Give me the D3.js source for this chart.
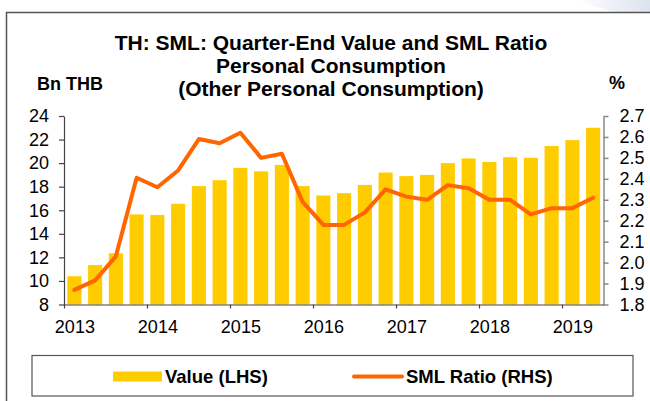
<!DOCTYPE html>
<html>
<head>
<meta charset="utf-8">
<script src="https://cdn.jsdelivr.net/npm/d3@7"></script>
<style>
  body { margin: 0; background: #fff; }
  svg { display: block; font-family: "Liberation Sans", Arial, sans-serif; }
</style>
</head>
<body>
<div id="chart"></div>
<script>
// quarterly data, 2013Q1 .. 2019Q2
const quarters = [
    "2013Q1", "2013Q2", "2013Q3", "2013Q4",
    "2014Q1", "2014Q2", "2014Q3", "2014Q4",
    "2015Q1", "2015Q2", "2015Q3", "2015Q4",
    "2016Q1", "2016Q2", "2016Q3", "2016Q4",
    "2017Q1", "2017Q2", "2017Q3", "2017Q4",
    "2018Q1", "2018Q2", "2018Q3", "2018Q4",
    "2019Q1", "2019Q2"
];
const valueLHS = [
    10.4, 11.35, 12.35, 15.65,
    15.6, 16.55, 18.05, 18.55,
    19.6, 19.3, 19.85, 18.05,
    17.25, 17.45, 18.15, 19.2,
    18.9, 19.0, 20.0, 20.4,
    20.1, 20.5, 20.45, 21.45,
    21.95, 23.0
];
const smlRatio = [
    1.87, 1.915, 2.03, 2.405,
    2.36, 2.44, 2.59, 2.57,
    2.62, 2.50, 2.52, 2.29,
    2.18, 2.18, 2.24, 2.35,
    2.315, 2.30, 2.37, 2.355,
    2.30, 2.30, 2.23, 2.26,
    2.26, 2.31
];
const yearLabels = ["2013", "2014", "2015", "2016", "2017", "2018", "2019"];
const leftTicks = [8, 10, 12, 14, 16, 18, 20, 22, 24];
const rightTicks = [1.8, 1.9, 2.0, 2.1, 2.2, 2.3, 2.4, 2.5, 2.6, 2.7];
const titleLines = [
    "TH: SML: Quarter-End Value and SML Ratio",
    "Personal Consumption",
    "(Other Personal Consumption)"
];

const width = 650, height = 401;
const plot = { left: 64, right: 603.5, top: 116, bottom: 304.5 };

const svg = d3.select("#chart")
    .append("svg")
    .attr("width", width)
    .attr("height", height);

// faint decoration at the top right corner
const grad = svg.append("defs").append("linearGradient")
    .attr("id", "corner").attr("x1", 0).attr("x2", 1).attr("y1", 0).attr("y2", 0);
grad.append("stop").attr("offset", 0).attr("stop-color", "#ffffff");
grad.append("stop").attr("offset", 1).attr("stop-color", "#dde3ee");
svg.append("path")
    .attr("d", "M575,0 L650,0 L650,12 L612,12 Q595,6 575,0 Z")
    .attr("fill", "url(#corner)");

// frame
svg.append("path")
    .attr("d", `M6.5,${height} L6.5,12.5 L${width},12.5`)
    .attr("fill", "none")
    .attr("stroke", "#555")
    .attr("stroke-width", 1.5);

// scales
const x = d3.scaleBand()
    .domain(quarters)
    .range([plot.left, plot.right])
    .paddingInner(0.32)
    .paddingOuter(0.16);

const xYears = d3.scaleLinear()
    .domain([0, quarters.length])
    .range([plot.left, plot.right]);

const yLeft = d3.scaleLinear().domain([8, 24]).range([plot.bottom, plot.top]);
const yRight = d3.scaleLinear().domain([1.8, 2.7]).range([plot.bottom, plot.top]);

// bars
svg.append("g")
    .selectAll("rect")
    .data(valueLHS)
    .join("rect")
    .attr("x", (d, i) => x(quarters[i]))
    .attr("y", d => yLeft(d))
    .attr("width", x.bandwidth())
    .attr("height", d => yLeft(8) - yLeft(d))
    .attr("fill", "#FFCC00");

// SML ratio line
const line = d3.line()
    .x((d, i) => x(quarters[i]) + x.bandwidth() / 2)
    .y(d => yRight(d));

svg.append("path")
    .datum(smlRatio)
    .attr("d", line)
    .attr("fill", "none")
    .attr("stroke", "#FF6600")
    .attr("stroke-width", 4)
    .attr("stroke-linejoin", "round")
    .attr("stroke-linecap", "round");

// axes
const leftAxis = svg.append("g")
    .attr("transform", `translate(${plot.left},0)`)
    .call(d3.axisLeft(yLeft).tickValues(leftTicks).tickSize(5).tickPadding(10).tickSizeOuter(0));

const rightAxis = svg.append("g")
    .attr("transform", `translate(${plot.right},0)`)
    .call(d3.axisRight(yRight).tickValues(rightTicks).tickSize(5).tickPadding(11).tickSizeOuter(0)
        .tickFormat(d3.format(".1f")));

const bottomAxis = svg.append("g")
    .attr("transform", `translate(0,${plot.bottom})`)
    .call(d3.axisBottom(xYears)
        .tickValues(yearLabels.map((d, i) => i * 4))
        .tickFormat((d, i) => yearLabels[i])
        .tickSize(4).tickPadding(12).tickSizeOuter(0));

// year labels sit under the first quarter of each year
const halfStep = xYears(0.5) - xYears(0);
bottomAxis.selectAll(".tick text").attr("x", halfStep);

[leftAxis, rightAxis, bottomAxis].forEach(g => {
    g.selectAll("text").attr("fill", "#000").style("font-size", "18px");
});
leftAxis.selectAll("path, line").attr("stroke", "#444").attr("stroke-width", 1.2);
rightAxis.selectAll("path, line").attr("stroke", "#888").attr("stroke-width", 1.5);
bottomAxis.selectAll("path, line").attr("stroke", "#444").attr("stroke-width", 1.2);

// titles
svg.append("g")
    .selectAll("text")
    .data(titleLines)
    .join("text")
    .attr("x", 331)
    .attr("y", (d, i) => 50 + i * 23)
    .attr("text-anchor", "middle")
    .style("font-size", "21px")
    .style("font-weight", "bold")
    .text(d => d);

svg.append("text")
    .attr("x", 37).attr("y", 90)
    .style("font-size", "18px").style("font-weight", "bold")
    .text("Bn THB");

svg.append("text")
    .attr("x", 617).attr("y", 89)
    .attr("text-anchor", "middle")
    .style("font-size", "18px").style("font-weight", "bold")
    .text("%");

// legend
const legend = svg.append("g");
legend.append("rect")
    .attr("x", 32).attr("y", 355.5)
    .attr("width", 601).attr("height", 40.5)
    .attr("fill", "#fff")
    .attr("stroke", "#555")
    .attr("stroke-width", 1.2);

legend.append("rect")
    .attr("x", 113).attr("y", 371.5)
    .attr("width", 49).attr("height", 10)
    .attr("fill", "#FFCC00");
legend.append("text")
    .attr("x", 165).attr("y", 383)
    .style("font-size", "18.5px").style("font-weight", "bold")
    .text("Value (LHS)");

legend.append("line")
    .attr("x1", 354).attr("x2", 402)
    .attr("y1", 376.5).attr("y2", 376.5)
    .attr("stroke", "#FF6600")
    .attr("stroke-width", 4)
    .attr("stroke-linecap", "round");
legend.append("text")
    .attr("x", 406).attr("y", 383)
    .style("font-size", "18.5px").style("font-weight", "bold")
    .text("SML Ratio (RHS)");
</script>
</body>
</html>
